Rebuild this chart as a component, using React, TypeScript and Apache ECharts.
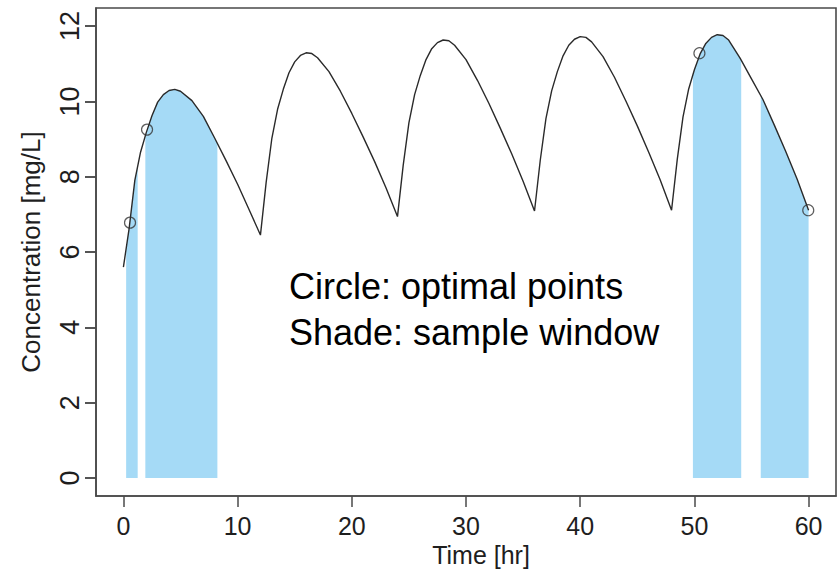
import React, { useEffect, useRef } from "react";
import * as echarts from "echarts";

// Concentration-time curve (hours, mg/L)
const timeHr = [
  0, 0.5, 1, 1.5, 2, 2.5, 3, 3.5, 4, 4.5, 5, 6, 7, 8, 9, 10, 11, 12,
  12.5, 13, 13.5, 14, 14.5, 15, 15.5, 16, 16.5, 17, 18, 19, 20, 21, 22, 23, 24,
  24.5, 25, 25.5, 26, 26.5, 27, 27.5, 28, 28.5, 29, 30, 31, 32, 33, 34, 35, 36,
  36.5, 37, 37.5, 38, 38.5, 39, 39.5, 40, 40.5, 41, 42, 43, 44, 45, 46, 47, 48,
  48.5, 49, 49.5, 50, 50.5, 51, 51.5, 52, 52.5, 53, 54, 55, 56, 57, 58, 59, 60,
];
const concMgL = [
  5.6, 6.62, 7.9, 8.65, 9.17, 9.62, 9.98, 10.18, 10.29, 10.32, 10.27, 10.02, 9.6, 9.02, 8.42, 7.8, 7.13, 6.45,
  7.85, 9.02, 9.79, 10.32, 10.76, 11.05, 11.22, 11.29, 11.27, 11.16, 10.79, 10.27, 9.68, 9.05, 8.4, 7.7, 6.94,
  8.3, 9.43, 10.18, 10.69, 11.11, 11.4, 11.56, 11.63, 11.61, 11.49, 11.11, 10.56, 9.95, 9.29, 8.61, 7.88, 7.09,
  8.43, 9.54, 10.28, 10.79, 11.21, 11.49, 11.65, 11.72, 11.7, 11.58, 11.19, 10.64, 10.01, 9.35, 8.65, 7.92, 7.11,
  8.46, 9.58, 10.33, 10.84, 11.26, 11.54, 11.7, 11.77, 11.75, 11.63, 11.15, 10.6, 10.05, 9.37, 8.67, 7.93, 7.11,
];

// Optimal sampling points (circles)
const optimalTime = [0.58, 2.07, 50.44, 59.97];
const optimalConc = [6.78, 9.25, 11.28, 7.11];

// Sampling windows (shaded)
const windowStart = [0.24, 1.92, 49.87, 55.81];
const windowEnd = [1.25, 8.23, 54.1, 60];
const windowStartConc = [6.1, 9.09, 10.72, 10.17];
const windowEndConc = [8.28, 8.88, 11.1, 7.11];

const xTicks = [0, 10, 20, 30, 40, 50, 60];
const yTicks = [0, 2, 4, 6, 8, 10, 12];

const FONT = "'Liberation Sans', Arial, Helvetica, sans-serif";
const AXIS_COLOR = "#4a4a4a";
const TEXT_COLOR = "#1e1e1e";
const SHADE = "#a5daf6";

export default function App() {
  const ref = useRef<HTMLDivElement>(null);

  useEffect(() => {
    if (!ref.current) return;
    const chart = echarts.init(ref.current, undefined, { renderer: "svg" });

    const curve = timeHr.map((t, i) => [t, concMgL[i]]);
    const shadeSeries = windowStart.map((ws, i) => {
      const we = windowEnd[i];
      const pts: number[][] = [[ws, windowStartConc[i]]];
      timeHr.forEach((t, j) => {
        if (t > ws && t < we) pts.push([t, concMgL[j]]);
      });
      pts.push([we, windowEndConc[i]]);
      return {
        type: "line",
        data: pts,
        symbol: "none",
        silent: true,
        lineStyle: { width: 0, color: SHADE },
        areaStyle: { color: SHADE, opacity: 1 },
        z: 1,
      };
    });

    chart.setOption({
      animation: false,
      backgroundColor: "#ffffff",
      grid: {
        left: 96,
        right: 4,
        top: 8,
        bottom: 73,
        show: true,
        borderColor: AXIS_COLOR,
        borderWidth: 1.6,
        backgroundColor: "transparent",
        containLabel: false,
        outerBoundsMode: "none",
      },
      xAxis: {
        type: "value",
        min: -2.4,
        max: 62.4,
        name: "Time [hr]",
        nameLocation: "middle",
        nameGap: 45,
        nameTextStyle: { fontFamily: FONT, fontSize: 25, color: TEXT_COLOR, padding: [0, 0, 0, 30] },
        axisLine: { show: true, onZero: false, lineStyle: { color: AXIS_COLOR, width: 1.6 } },
        axisTick: {
          show: true,
          customValues: xTicks,
          length: 11,
          lineStyle: { color: AXIS_COLOR, width: 1.5 },
        },
        axisLabel: {
          customValues: xTicks,
          fontFamily: FONT,
          fontSize: 25,
          color: TEXT_COLOR,
          margin: 17,
        },
        splitLine: { show: false },
      },
      yAxis: [
        {
          type: "value",
          min: -0.48,
          max: 12.48,
          name: "Concentration [mg/L]",
          nameLocation: "middle",
          nameGap: 52,
          nameTextStyle: { fontFamily: FONT, fontSize: 26, color: TEXT_COLOR },
          axisLine: { show: true, onZero: false, lineStyle: { color: AXIS_COLOR, width: 1.6 } },
          axisTick: {
            show: true,
            customValues: yTicks,
            length: 11,
            lineStyle: { color: AXIS_COLOR, width: 1.5 },
          },
          axisLabel: {
            customValues: yTicks,
            rotate: 90,
            fontFamily: FONT,
            fontSize: 27,
            color: TEXT_COLOR,
            margin: 13,
          },
          splitLine: { show: false },
        },
        {
          // tick-only twin of the left axis
          type: "value",
          position: "left",
          min: -0.48,
          max: 12.48,
          axisLine: { show: false, onZero: false },
          axisTick: {
            show: true,
            customValues: yTicks,
            length: 11,
            lineStyle: { color: AXIS_COLOR, width: 1.5 },
          },
          axisLabel: { show: false },
          splitLine: { show: false },
        },
      ],
      graphic: [
        {
          type: "text",
          x: 289,
          y: 286,
          z: 10,
          style: {
            text: "Circle: optimal points",
            fontFamily: FONT,
            fontSize: 36,
            fill: "#000000",
            textVerticalAlign: "middle",
          },
        },
        {
          type: "text",
          x: 289,
          y: 332,
          z: 10,
          style: {
            text: "Shade: sample window",
            fontFamily: FONT,
            fontSize: 36,
            fill: "#000000",
            textVerticalAlign: "middle",
          },
        },
      ],
      series: [
        ...shadeSeries,
        {
          type: "line",
          data: curve,
          symbol: "none",
          silent: true,
          lineStyle: { color: "#2a2a2a", width: 1.4 },
          z: 3,
        },
        {
          type: "scatter",
          data: optimalTime.map((t, i) => [t, optimalConc[i]]),
          symbol: "circle",
          symbolSize: 11,
          itemStyle: { color: "rgba(0,0,0,0)", borderColor: "#333333", borderWidth: 1.2 },
          z: 4,
        },
      ],
    });

    return () => chart.dispose();
  }, []);

  return (
    <div
      ref={ref}
      style={{ position: "fixed", left: 0, top: 0, width: 840, height: 569, background: "#fff" }}
    />
  );
}
